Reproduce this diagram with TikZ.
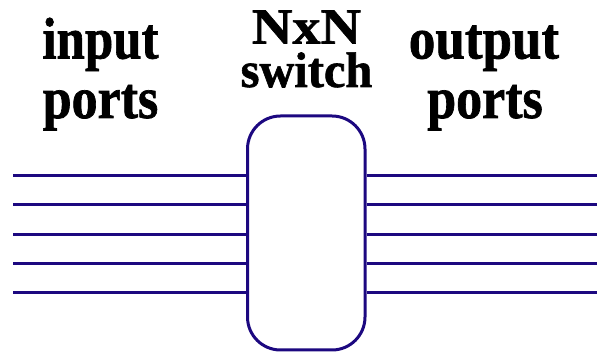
\documentclass[tikz,border=0pt]{standalone}
\usepackage{fontspec}
\setmainfont{Liberation Serif}[BoldFeatures={FakeBold=1.2}]
\usepackage{graphicx}
\definecolor{wire}{RGB}{28,8,128}
\begin{document}
\begin{tikzpicture}[x=1pt,y=-1pt,
  lbl/.style={anchor=base,inner sep=0pt,font=\bfseries\fontsize{52}{52}\selectfont},
  wireline/.style={draw=wire,line width=3pt},
  switchbox/.style={draw=wire,line width=3pt,rounded corners=33pt,
    minimum width=117.5pt,minimum height=234pt,inner sep=0pt}]
\useasboundingbox (0,0) rectangle (597,352);
\node[lbl] (in1) at (100.5,58.5) {\scalebox{0.98}[1.13]{input}};
\node[lbl] (in2) at (100.5,118) {\scalebox{1.0}[1.13]{ports}};
\node[lbl] (sw1) at (306.5,43.5) {\scalebox{1.08}[0.97]{NxN}};
\node[lbl] (sw2) at (306.5,87) {\scalebox{0.93}[0.96]{switch}};
\node[lbl] (out1) at (484,58.5) {\scalebox{1.02}[1.13]{output}};
\node[lbl] (out2) at (485,118) {\scalebox{1.0}[1.13]{ports}};
\node[switchbox] (box) at (306.25,233) {};
\foreach \i/\y in {1/175.5,2/205,3/234.3,4/263.5,5/292.8}{
  \coordinate (l\i) at (13,\y);
  \coordinate (r\i) at (597,\y);
  \draw[wireline] (l\i) -- (l\i -| box.west);
  \draw[wireline] (box.east |- r\i) -- (r\i);
}
\end{tikzpicture}
\end{document}
